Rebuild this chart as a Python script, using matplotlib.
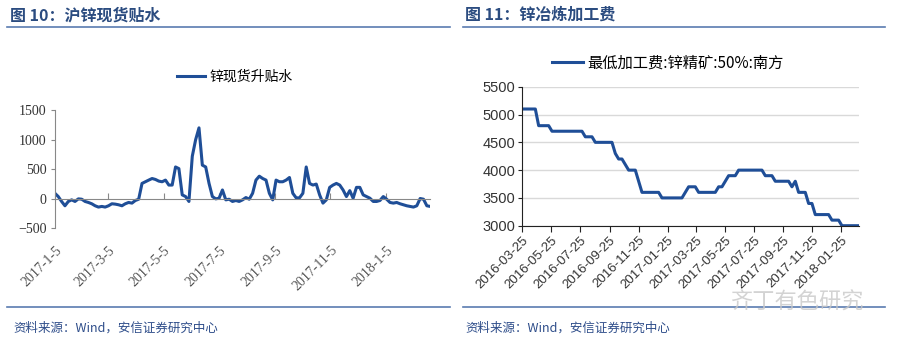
import numpy as np
import pandas as pd
import matplotlib
matplotlib.use('Agg')
import matplotlib.pyplot as plt
from matplotlib.lines import Line2D

plt.rcParams['font.family'] = ['Noto Sans CJK SC', 'DejaVu Sans']

# 图10: 沪锌现货升贴水, 2017-01-05 ~ 2018-02-23 (sampled from the chart)
spread_start = '2017-01-05'
spread_end = '2018-02-23'
spread = [94, 39, -44, -117, -44, -17, -44, 0, -6, -44,
          -61, -83, -117, -139, -128, -139, -117, -83, -89, -100,
          -117, -83, -61, -72, -28, -6, 261, 289, 317, 344,
          328, 300, 289, 317, 233, 233, 539, 511, 67, 39,
          -44, 720, 1000, 1200, 570, 539, 261, 39, 0, 11,
          150, -17, -6, -44, -28, -44, -17, 22, -6, 94,
          317, 383, 344, 317, 94, -17, 317, 289, 289, 317,
          361, 94, 17, 17, 94, 539, 261, 233, 250, 67,
          -72, -17, 194, 233, 261, 233, 150, 39, 139, 11,
          194, 194, 67, 39, 11, -44, -44, -28, 39, -6,
          -61, -72, -61, -83, -100, -117, -128, -139, -117, 6,
          -6, -117, -128]
spread_ticks = ['2017-01-05', '2017-03-05', '2017-05-05', '2017-07-05',
                '2017-09-05', '2017-11-05', '2018-01-05']
spread_labels = ['2017-1-5', '2017-3-5', '2017-5-5', '2017-7-5',
                 '2017-9-5', '2017-11-5', '2018-1-5']

# 图11: 最低加工费:锌精矿:50%:南方, weekly from 2016-03-25
tc_start = '2016-03-25'
tc = ([5100] * 5 + [4800] * 4 + [4700] * 10 + [4600] * 3 + [4500] * 6 +
      [4300] + [4200] * 2 + [4100] + [4000] * 3 + [3800] + [3600] * 6 +
      [3500] * 7 + [3600] + [3700] * 3 + [3600] * 6 + [3700] * 2 + [3800] +
      [3900] * 3 + [4000] * 8 + [3900] * 3 + [3800] * 5 + [3700] + [3800] +
      [3600] * 3 + [3400] * 2 + [3200] * 5 + [3100] * 3 + [3000] * 6)
tc_ticks = ['2016-03-25', '2016-05-25', '2016-07-25', '2016-09-25',
            '2016-11-25', '2017-01-25', '2017-03-25', '2017-05-25',
            '2017-07-25', '2017-09-25', '2017-11-25', '2018-01-25']

line_color = '#1f4e97'
title_color = '#2b4c80'
rule_color = '#5a7bb0'

fig = plt.figure(figsize=(9, 3.43), dpi=100)

# ---------- left panel ----------
d1 = pd.date_range(spread_start, spread_end, periods=len(spread))
ax1 = fig.add_axes([0.061, 0.334, 0.417, 0.345])
ax1.plot(d1, spread, color=line_color, lw=2.2, label='锌现货升贴水')
ax1.set_ylim(-500, 1500)
ax1.set_yticks([-500, 0, 500, 1000, 1500])
ax1.set_xlim(pd.Timestamp(spread_start), d1[-1])
for s in ['top', 'right']:
    ax1.spines[s].set_visible(False)
ax1.spines['left'].set_color('#888888')
ax1.spines['bottom'].set_position(('data', 0))
ax1.spines['bottom'].set_color('#888888')
tk = pd.to_datetime(spread_ticks)
ax1.set_xticks(tk)
ax1.tick_params(axis='x', direction='in', length=4, color='#888888', labelbottom=False)
ax1.tick_params(axis='y', direction='out', length=3, color='#888888', pad=3)
for lab in ax1.get_yticklabels():
    lab.set_fontfamily('Liberation Serif')
    lab.set_fontsize(10)
    lab.set_color('#333333')
sec = ax1.secondary_xaxis('bottom')
sec.set_xticks(tk)
sec.set_xticklabels(spread_labels, rotation=45, ha='right', rotation_mode='anchor',
                    fontfamily='Liberation Serif', fontsize=10, color='#555555')
sec.tick_params(length=0, pad=11)
sec.spines['bottom'].set_visible(False)
ax1.legend(loc='center', bbox_to_anchor=(0.261, 0.776), bbox_transform=fig.transFigure,
           frameon=False, fontsize=10, handlelength=2.0, handletextpad=0.3)

# ---------- right panel ----------
d2 = pd.date_range(tc_start, periods=len(tc), freq='7D')
ax2 = fig.add_axes([0.58, 0.342, 0.374, 0.405])
ax2.plot(d2, tc, color=line_color, lw=2.2, label='最低加工费:锌精矿:50%:南方')
ax2.set_ylim(3000, 5500)
ax2.set_yticks(np.arange(3000, 5501, 500))
ax2.set_xlim(d2[0], d2[-1])
ax2.grid(axis='y', color='#d9d9d9', lw=1)
ax2.set_axisbelow(True)
for s in ['top', 'right']:
    ax2.spines[s].set_visible(False)
for s in ['left', 'bottom']:
    ax2.spines[s].set_color('#222222')
ax2.set_xticks(pd.to_datetime(tc_ticks))
ax2.set_xticklabels(tc_ticks, rotation=45, ha='right', rotation_mode='anchor',
                    fontfamily='Liberation Sans', fontsize=9.5, color='#333333')
ax2.tick_params(axis='x', direction='out', length=4, color='#222222', pad=2)
ax2.tick_params(axis='y', direction='out', length=3, color='#222222', pad=2)
for lab in ax2.get_yticklabels():
    lab.set_fontfamily('Liberation Sans')
    lab.set_fontsize(10.5)
    lab.set_color('#333333')
ax2.legend(loc='center', bbox_to_anchor=(0.742, 0.816), bbox_transform=fig.transFigure,
           frameon=False, fontsize=11, handlelength=2.0, handletextpad=0.3)

# ---------- titles, rules, sources ----------
fig.text(10 / 900, 1 - 15 / 343, '图 10：沪锌现货贴水', fontsize=11.5, fontweight='bold',
         color=title_color, va='center')
fig.text(465 / 900, 1 - 15 / 343, '图 11：锌冶炼加工费', fontsize=11.5, fontweight='bold',
         color=title_color, va='center')
for x0, x1 in [(7, 450), (463, 885)]:
    for yy in [27, 307]:
        fig.add_artist(Line2D([x0 / 900, x1 / 900], [1 - yy / 343] * 2,
                              color=rule_color, lw=1.2, transform=fig.transFigure))
fig.text(13 / 900, 1 - 328 / 343, '资料来源：Wind，安信证券研究中心', fontsize=9,
         color='#2e4d8a', va='center', style='italic')
fig.text(465 / 900, 1 - 328 / 343, '资料来源：Wind，安信证券研究中心', fontsize=9,
         color='#2e4d8a', va='center', style='italic')
fig.text(730 / 900, 1 - 302 / 343, '齐丁有色研究', fontsize=16, color='#c8c8c8',
         va='center', alpha=0.8)

fig.savefig('out.png', dpi=100)
